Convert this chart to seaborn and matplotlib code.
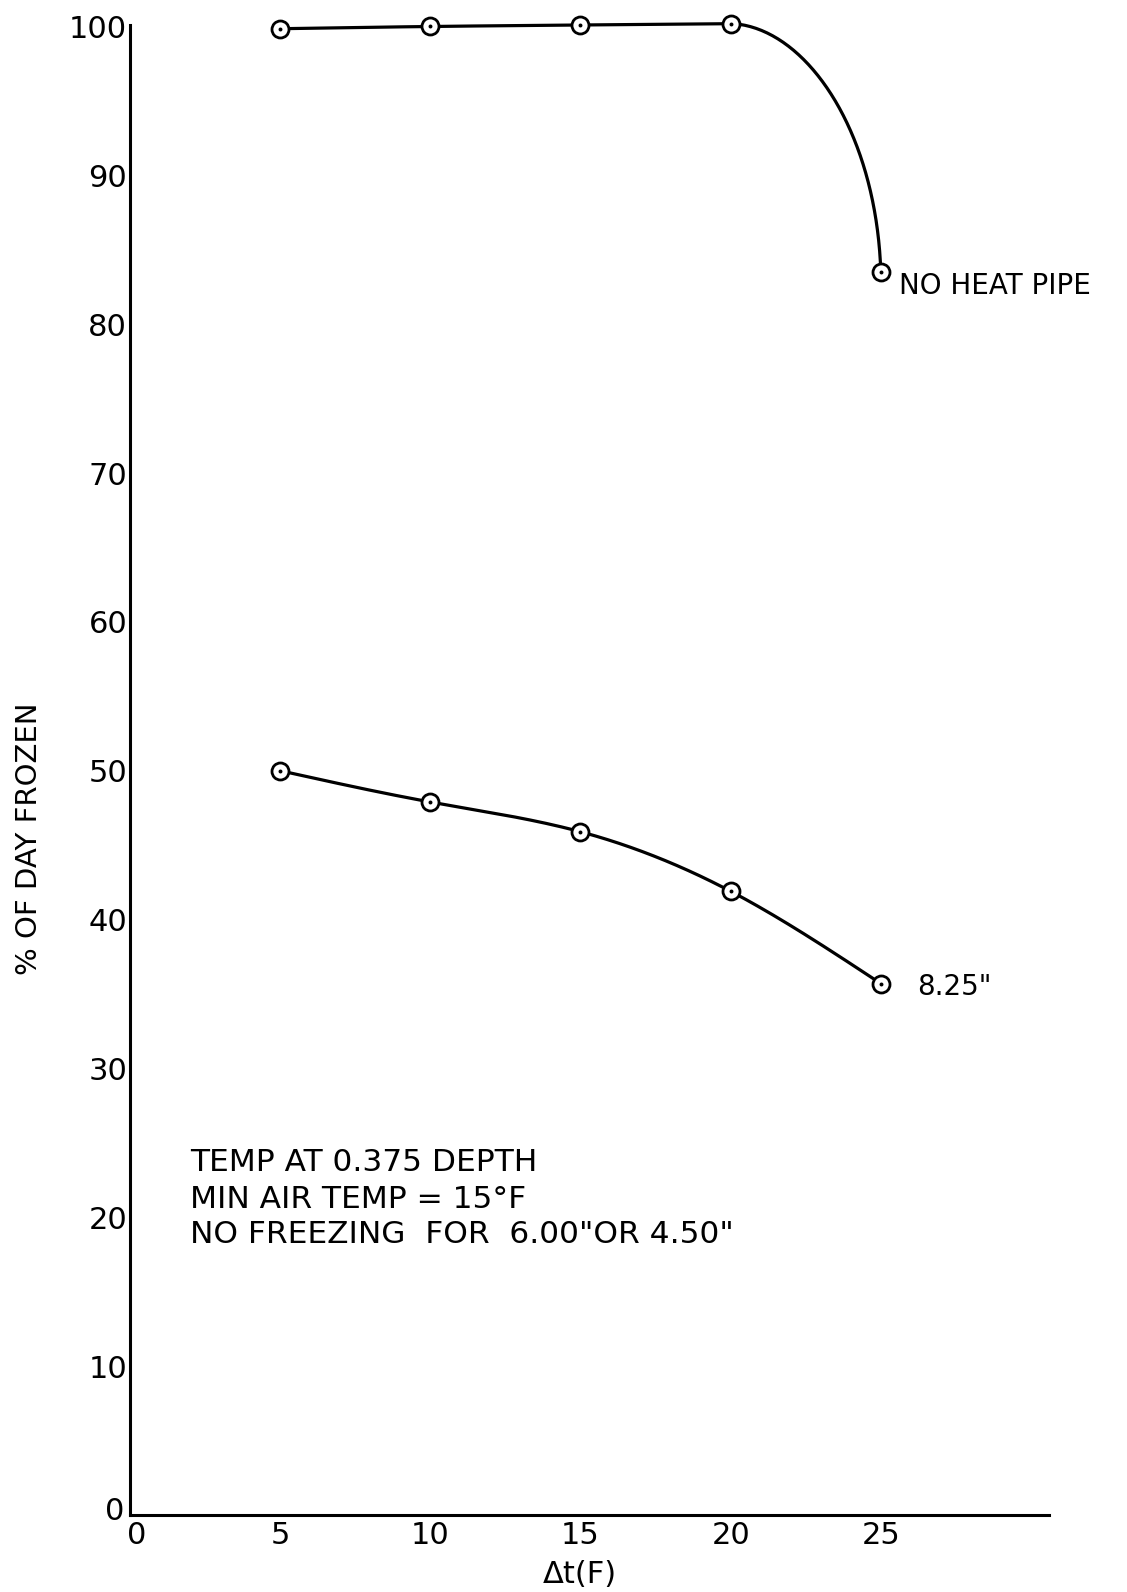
import numpy as np
import pandas as pd
import matplotlib
matplotlib.use("Agg")
import matplotlib.pyplot as plt
import matplotlib.transforms as mtrans
import seaborn as sns

# ---- data ----
delta_t = [5, 10, 15, 20, 25]
no_heat_pipe = [99.85, 100.0, 100.1, 100.2, 83.5]
pipe_825 = [50.0, 47.9, 45.9, 41.9, 35.7]
x_ticks = [0, 5, 10, 15, 20, 25]
y_ticks = [0, 10, 20, 30, 40, 50, 60, 70, 80, 90, 100]
notes = ["TEMP AT 0.375 DEPTH", "MIN AIR TEMP = 15\u00b0F", 'NO FREEZING  FOR  6.00"OR 4.50"']

sns.set_style("white")
plt.rcParams["font.family"] = ["DejaVu Sans"]

fig = plt.figure(figsize=(11.27, 15.92), dpi=100)
ax = fig.add_axes([0.1153, 0.0484, 0.8155, 0.9359])
XMAX, YMAX = 30.6, 100.1
ax.set_xlim(0, XMAX)
ax.set_ylim(0, YMAX)


def natural_spline(xs, ys, n=40):
    """Smooth drawing path through the given points (natural cubic spline)."""
    x = np.asarray(xs, float); y = np.asarray(ys, float)
    k = len(x)
    h = np.diff(x)
    A = np.zeros((k, k)); b = np.zeros(k)
    A[0, 0] = A[-1, -1] = 1
    for i in range(1, k - 1):
        A[i, i - 1] = h[i - 1]
        A[i, i] = 2 * (h[i - 1] + h[i])
        A[i, i + 1] = h[i]
        b[i] = 3 * ((y[i + 1] - y[i]) / h[i] - (y[i] - y[i - 1]) / h[i - 1])
    c = np.linalg.solve(A, b)
    out_x, out_y = [], []
    for i in range(k - 1):
        bb = (y[i + 1] - y[i]) / h[i] - h[i] * (2 * c[i] + c[i + 1]) / 3
        d = (c[i + 1] - c[i]) / (3 * h[i])
        t = np.linspace(0, h[i], n)
        out_x.append(x[i] + t)
        out_y.append(y[i] + bb * t + c[i] * t**2 + d * t**3)
    return np.concatenate(out_x), np.concatenate(out_y)


def bezier(p0, p3, d0, d1, n=80):
    # handles given as offsets (dx, dy) from the end points
    p0 = np.array(p0, float); p3 = np.array(p3, float)
    p1 = p0 + np.array(d0); p2 = p3 + np.array(d1)
    t = np.linspace(0, 1, n)[:, None]
    pts = (1 - t)**3 * p0 + 3 * (1 - t)**2 * t * p1 + 3 * (1 - t) * t**2 * p2 + t**3 * p3
    return pts[:, 0], pts[:, 1]


lw = 2.3
# upper curve: flat part then rounded drop
ux1, uy1 = natural_spline(delta_t[:4], no_heat_pipe[:4])
ux2, uy2 = bezier((delta_t[3], no_heat_pipe[3]), (delta_t[4], no_heat_pipe[4]),
                  (2.5, -0.2), (-0.15, 9.5))
upper = pd.DataFrame({"x": np.concatenate([ux1, ux2]), "y": np.concatenate([uy1, uy2])})
lx, ly = natural_spline(delta_t, pipe_825)
lower = pd.DataFrame({"x": lx, "y": ly})

sns.lineplot(data=upper, x="x", y="y", sort=False, color="black", lw=lw, ax=ax,
             clip_on=False, zorder=3)
sns.lineplot(data=lower, x="x", y="y", sort=False, color="black", lw=lw, ax=ax,
             clip_on=False, zorder=3)

pts = pd.DataFrame({"x": delta_t * 2, "y": no_heat_pipe + pipe_825})
sns.scatterplot(data=pts, x="x", y="y", marker="o", s=150, facecolor="white",
                edgecolor="black", linewidth=2.0, ax=ax, zorder=4, clip_on=False)
sns.scatterplot(data=pts, x="x", y="y", marker="o", s=8, color="black",
                edgecolor="black", linewidth=0, ax=ax, zorder=5, clip_on=False)

# axes styling
for s in ["top", "right"]:
    ax.spines[s].set_visible(False)
for s in ["left", "bottom"]:
    ax.spines[s].set_linewidth(2.2)
    ax.spines[s].set_color("black")
ax.set_xticks(x_ticks)
ax.set_yticks(y_ticks)
ax.set_xticklabels([str(v) for v in x_ticks])
ax.set_yticklabels([str(v) for v in y_ticks])
ax.tick_params(axis="both", direction="in", length=11, width=2, color="black",
               labelsize=22, labelcolor="black")
ax.tick_params(axis="y", pad=2)
ax.tick_params(axis="x", pad=4)

# nudge the two corner "0" labels apart, as in the reference
y0 = ax.get_yticklabels()[0]
y0.set_transform(y0.get_transform() + mtrans.ScaledTranslation(-2 / 72, 5 / 72, fig.dpi_scale_trans))
x0 = ax.get_xticklabels()[0]
x0.set_transform(x0.get_transform() + mtrans.ScaledTranslation(5 / 72, 0, fig.dpi_scale_trans))

ax.set_xlabel("\u0394t(F)", fontsize=22, color="black")
ax.xaxis.set_label_coords(0.49, -0.030)
ax.set_ylabel("% OF DAY FROZEN", fontsize=21, color="black")
ax.yaxis.set_label_coords(-0.095, 0.454)

# series labels
ax.text(25.6, 82.0, "NO HEAT PIPE", fontsize=20, color="black", va="baseline",
        ha="left", clip_on=False)
ax.text(26.2, 34.9, '8.25"', fontsize=20, color="black", va="baseline", ha="left")

# notes
for txt, yv in zip(notes, [23.1, 20.6, 18.3]):
    ax.text(2.0, yv, txt, fontsize=22.5, color="black", va="baseline", ha="left")

fig.savefig("out.png", dpi=100, facecolor="white")
